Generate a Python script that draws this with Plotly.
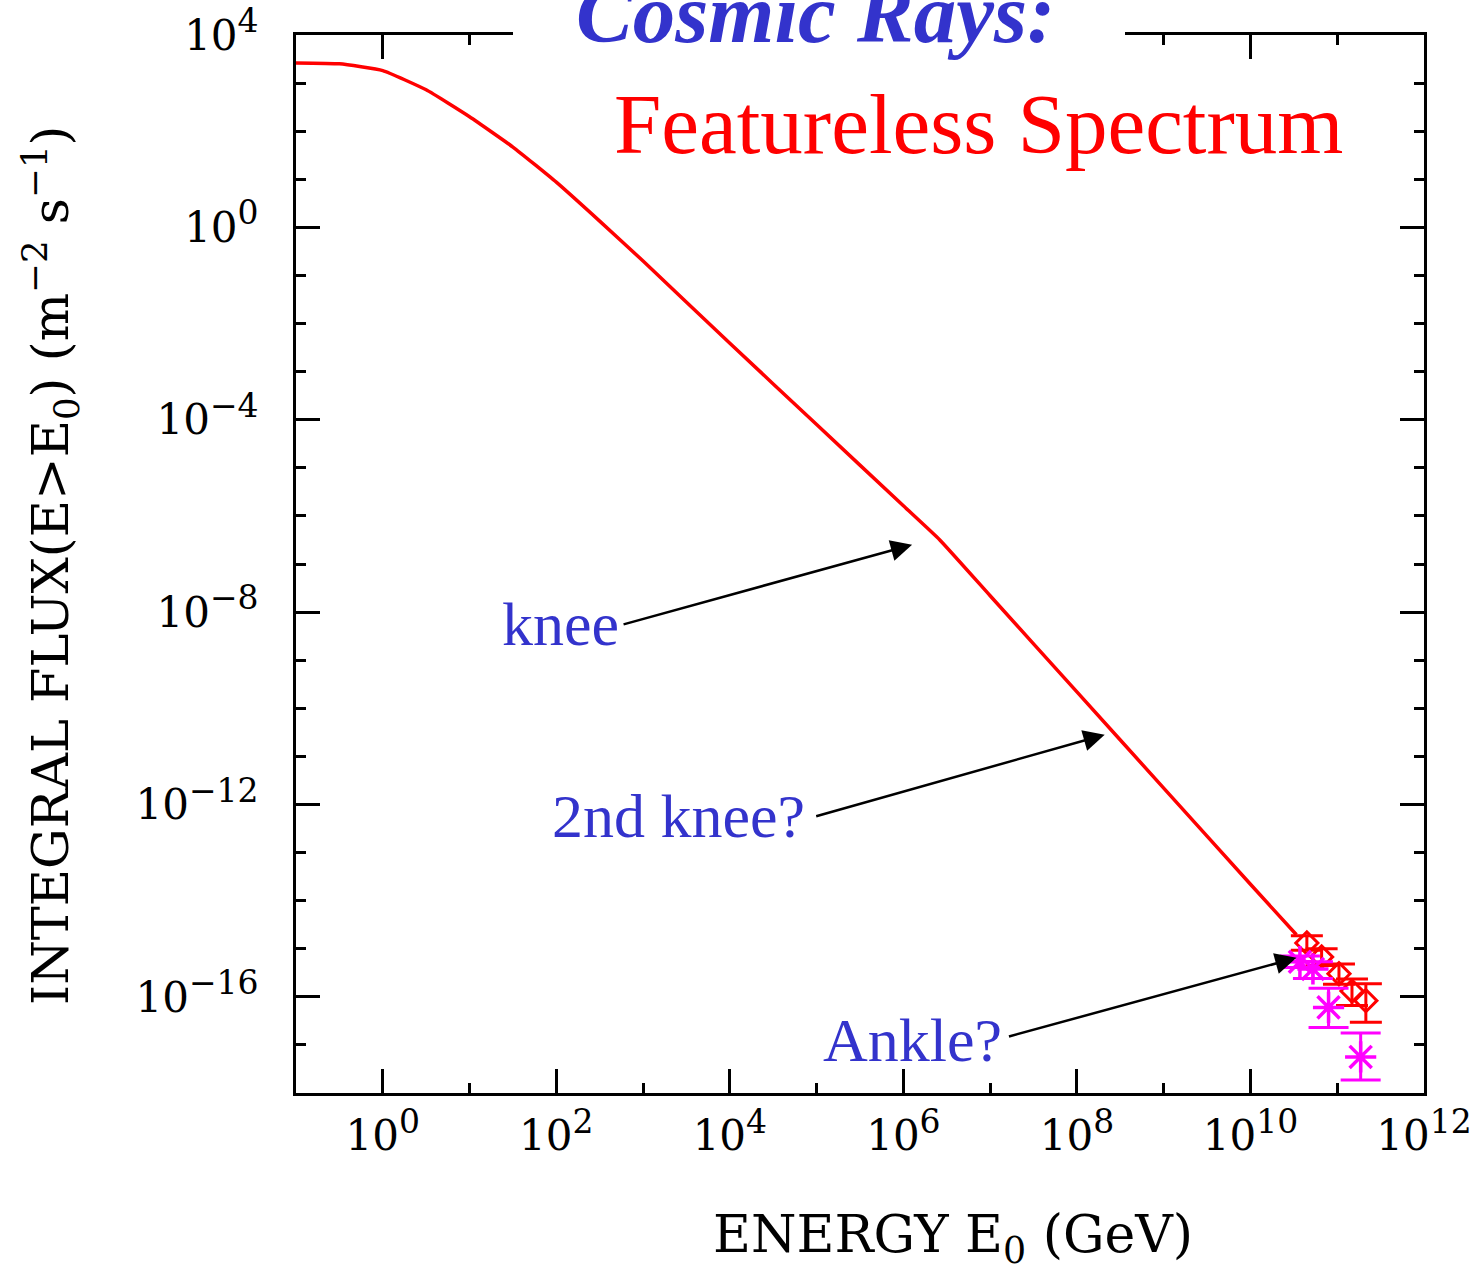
import numpy as np
import plotly.graph_objects as go

# ---- data (log10 values) ----
curve_log_energy = [-1.0, -0.5, 0.0, 0.5, 1.0, 1.5, 2.0, 2.5, 3.0, 4.0, 5.0, 6.0, 6.42, 7.0, 8.0, 9.0, 10.0, 10.53]
curve_log_flux = [3.42, 3.40, 3.26, 2.86, 2.30, 1.67, 0.94, 0.13, -0.70, -2.41, -4.10, -5.79, -6.50, -7.66, -9.66, -11.66, -13.66, -14.71]

red_log_energy = [10.65, 10.82, 11.02, 11.17, 11.33]
red_log_flux = [-14.88, -15.17, -15.52, -15.88, -16.08]
red_err_up = [0.15, 0.17, 0.20, 0.25, 0.35]
red_err_dn = [0.15, 0.18, 0.22, 0.30, 0.45]

mag_log_energy = [10.57, 10.72, 10.90, 11.27]
mag_log_flux = [-15.27, -15.42, -16.22, -17.25]
mag_err_up = [0.12, 0.15, 0.40, 0.50]
mag_err_dn = [0.12, 0.20, 0.42, 0.48]

x_tick_exp = [0, 2, 4, 6, 8, 10, 12]
x_minor_exp = [1, 3, 5, 7, 9, 11]
y_tick_exp = [4, 0, -4, -8, -12, -16]
y_minor_exp = [3, 2, 1, -1, -2, -3, -5, -6, -7, -9, -10, -11, -13, -14, -15, -17]

BLUE = "#3333CC"
RED = "#FF0000"
MAG = "#FF00FF"

# page geometry (body margin removed by the post script below)
W, H = 1475, 1269
L, R, T, B = 296, 51, 35, 176
PX0, PY0 = L, T                          # plot-area top-left in window pixels
PW, PH = W - L - R, H - T - B


def px2paper(px, py):
    return (px - PX0) / PW, 1 - (py - PY0) / PH


def sup(e):
    s = str(e).replace("-", "\u2212")
    return "10<sup><span style='font-size:33px'>" + s + "</span></sup>"


def pw(a):
    return np.power(10.0, np.array(a, dtype=float))


fig = go.Figure()

fig.add_trace(go.Scatter(
    x=pw(curve_log_energy), y=pw(curve_log_flux), mode="lines",
    line=dict(color=RED, width=3.5, shape="spline", smoothing=0.4),
    showlegend=False, hoverinfo="skip"))

rf = pw(red_log_flux)
fig.add_trace(go.Scatter(
    x=pw(red_log_energy), y=rf, mode="markers",
    marker=dict(symbol="diamond-open", size=17, color=RED, line=dict(width=3, color=RED)),
    error_y=dict(type="data", symmetric=False,
                 array=pw(np.array(red_log_flux) + np.array(red_err_up)) - rf,
                 arrayminus=rf - pw(np.array(red_log_flux) - np.array(red_err_dn)),
                 color=RED, thickness=3, width=16),
    showlegend=False))

mf = pw(mag_log_flux)
fig.add_trace(go.Scatter(
    x=pw(mag_log_energy), y=mf, mode="markers",
    marker=dict(symbol="asterisk-open", size=26, color=MAG, line=dict(width=3.5, color=MAG)),
    error_y=dict(type="data", symmetric=False,
                 array=pw(np.array(mag_log_flux) + np.array(mag_err_up)) - mf,
                 arrayminus=mf - pw(np.array(mag_log_flux) - np.array(mag_err_dn)),
                 color=MAG, thickness=3, width=20),
    showlegend=False))

tickfont = dict(family="DejaVu Serif", size=42, color="black")

fig.update_xaxes(
    type="log", range=[-1, 12], showgrid=False, zeroline=False, automargin=False,
    showline=True, linewidth=3, linecolor="black", mirror="allticks",
    ticks="inside", ticklen=24, tickwidth=3, tickcolor="black",
    tickvals=[10.0 ** e for e in x_tick_exp], ticktext=[sup(e) for e in x_tick_exp],
    tickfont=tickfont, ticklabelstandoff=4, ticklabeloverflow="allow",
    minor=dict(tickvals=[10.0 ** e for e in x_minor_exp], ticks="inside", ticklen=10,
               tickwidth=3, tickcolor="black", showgrid=False))

fig.update_yaxes(
    type="log", range=[-18, 4], showgrid=False, zeroline=False, automargin=False,
    showline=True, linewidth=3, linecolor="black", mirror="allticks",
    ticks="inside", ticklen=24, tickwidth=3, tickcolor="black",
    tickvals=[10.0 ** e for e in y_tick_exp], ticktext=[sup(e) for e in y_tick_exp],
    tickfont=tickfont, ticklabelstandoff=26, ticklabeloverflow="allow",
    minor=dict(tickvals=[10.0 ** e for e in y_minor_exp], ticks="inside", ticklen=10,
               tickwidth=3, tickcolor="black", showgrid=False))

serif = "Liberation Serif"
ann = []


def text_ann(text, px, py, size, color, family, angle=0):
    x, y = px2paper(px, py)
    return dict(text=text, xref="paper", yref="paper", x=x, y=y,
                xanchor="center", yanchor="middle", textangle=angle, showarrow=False,
                font=dict(family=family, size=size, color=color))


# axis titles
ann.append(text_ann("ENERGY E<sub>0</sub> (GeV)", 953, 1238, 52, "black", "DejaVu Serif"))
ann.append(text_ann("INTEGRAL FLUX(E>E<sub>0</sub>) (m<sup>\u22122</sup> s<sup>\u22121</sup>)",
                    50, 565, 51, "black", "DejaVu Serif", angle=-90))
# titles
ann.append(text_ann("<b><i>Cosmic Rays:</i></b>", 815, 13, 85, BLUE, serif))
ann.append(text_ann("Featureless Spectrum", 978, 124, 85, RED, serif))
# labels
for t, px, py in [("knee", 560, 624), ("2nd knee?", 678, 816), ("Ankle?", 912, 1040)]:
    ann.append(text_ann(t, px, py, 62, BLUE, serif))

# arrows: tips given in log10 data units (log axes), tails as pixel offsets
arrow_tip_log_energy = [6.10, 8.32, 10.53]
arrow_tip_log_flux = [-6.60, -10.55, -15.19]
arrow_dx = [-290, -290, -289]
arrow_dy = [80, 82, 79]
for ex, fy, dx, dy in zip(arrow_tip_log_energy, arrow_tip_log_flux, arrow_dx, arrow_dy):
    ann.append(dict(x=ex, y=fy, xref="x", yref="y", ax=dx, ay=dy, text="",
                    showarrow=True, arrowhead=2, arrowsize=1.7, arrowwidth=2.5,
                    arrowcolor="black", standoff=0))

gx0, gy_top = px2paper(513, 0)
gx1, gy_bot = px2paper(1125, 62)

fig.update_layout(
    width=W, height=H, autosize=False,
    margin=dict(l=L, r=R, t=T, b=B, autoexpand=False),
    paper_bgcolor="white", plot_bgcolor="white",
    annotations=ann,
    shapes=[dict(type="rect", xref="paper", yref="paper",
                 x0=gx0, x1=gx1, y0=gy_bot, y1=gy_top,
                 fillcolor="white", line=dict(width=0), layer="above")],
)

post = (
    "document.documentElement.style.overflow='hidden';"
    "document.body.style.margin='0';"
    "document.body.style.overflow='hidden';"
)

fig.write_html("out.html", post_script=post, config={"displayModeBar": False})
